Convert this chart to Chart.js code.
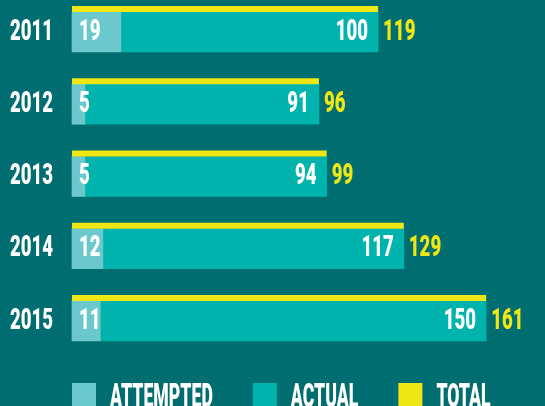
<!DOCTYPE html>
<html>
<head>
<meta charset="utf-8">
<script src="https://cdn.jsdelivr.net/npm/chart.js@4"></script>
<style>
  html, body { margin: 0; padding: 0; background: #006e70; }
</style>
</head>
<body>
<canvas id="graf" width="545" height="406"></canvas>
<script>
const years = ["2011", "2012", "2013", "2014", "2015"];
const attempted = [19, 5, 5, 12, 11];
const actual = [100, 91, 94, 117, 150];
const totals = [119, 96, 99, 129, 161];
const legendNames = ["ATTEMPTED", "ACTUAL", "TOTAL"];

const BG = "#006e70";
const LIGHT = "#6bc9cd";
const TEAL = "#00b3ad";
const YELLOW = "#f0e614";
const FONT = 'Roboto, "DejaVu Sans Condensed", sans-serif';

// the original uses a narrow DIN-like face, so squeeze the text sideways
function narrowText(ctx, text, x, y, align, color, size, squeeze, base) {
  ctx.save();
  ctx.translate(x, y);
  ctx.scale(squeeze, 1);
  ctx.font = "900 " + size + "px " + FONT;
  ctx.fillStyle = color;
  ctx.textAlign = align;
  ctx.textBaseline = base || "middle";
  ctx.fillText(text, 0, 0);
  const w = ctx.measureText(text).width * squeeze;
  ctx.restore();
  return w;
}

const barLabels = {
  id: "barLabels",
  beforeDraw(chart) {
    const ctx = chart.ctx;
    ctx.save();
    ctx.fillStyle = BG;
    ctx.fillRect(0, 0, chart.width, chart.height);
    ctx.restore();
  },
  afterDatasetsDraw(chart) {
    const ctx = chart.ctx;
    const xs = chart.scales.x;
    const bars = chart.getDatasetMeta(1).data;
    const x0 = xs.getPixelForValue(0);
    years.forEach((yr, i) => {
      const b = bars[i];
      const top = b.y - b.height / 2;
      const xt = xs.getPixelForValue(totals[i]);
      // total strip on top of each bar
      ctx.fillStyle = YELLOW;
      ctx.fillRect(x0, top - 6, xt - x0, 6);
      narrowText(ctx, yr, x0 - 19, b.y, "right", "#fff", 30, 0.62);
      narrowText(ctx, String(attempted[i]), x0 + 7, b.y, "left", "#fff", 30, 0.62);
      narrowText(ctx, String(actual[i]), xt - 10, b.y, "right", "#fff", 30, 0.62);
      narrowText(ctx, String(totals[i]), xt + 5, b.y, "left", YELLOW, 30, 0.62);
    });
  },
  afterDraw(chart) {
    // legend row under the bars
    const ctx = chart.ctx;
    const colors = [LIGHT, TEAL, YELLOW];
    const top = chart.chartArea.bottom + 62;
    let x = chart.chartArea.left;
    legendNames.forEach((name, i) => {
      ctx.fillStyle = colors[i];
      ctx.fillRect(x, top, 24, 24);
      const w = narrowText(ctx, name, x + 38, top + 24, "left", "#fff", 34, 0.52, "alphabetic");
      x += 38 + w + 40;
    });
  }
};

new Chart(document.getElementById("graf"), {
  type: "bar",
  data: {
    labels: years,
    datasets: [
      { label: "ATTEMPTED", data: attempted, backgroundColor: LIGHT },
      { label: "ACTUAL", data: actual, backgroundColor: TEAL }
    ]
  },
  options: {
    indexAxis: "y",
    responsive: false,
    animation: false,
    datasets: { bar: { barThickness: 40, clip: false } },
    layout: { padding: { left: 72, right: 10, top: 32, bottom: 85 } },
    scales: {
      x: { stacked: true, min: 0, max: 180, display: false },
      y: { stacked: true, display: false, offset: false }
    },
    plugins: {
      tooltip: { enabled: false },
      legend: { display: false }
    }
  },
  plugins: [barLabels]
});
</script>
</body>
</html>
